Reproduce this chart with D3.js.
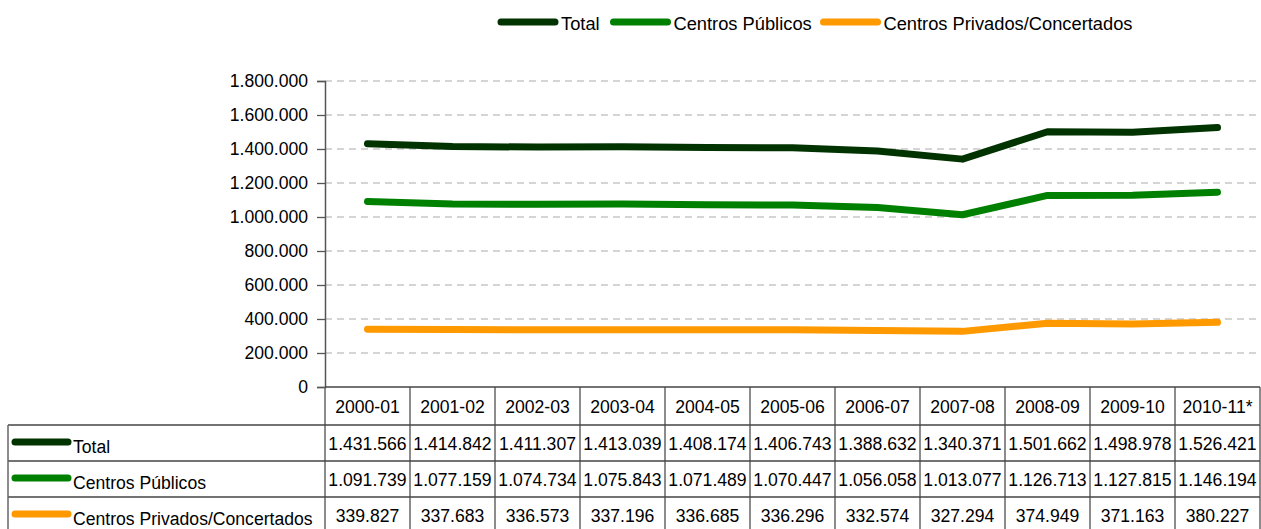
<!DOCTYPE html>
<html>
<head>
<meta charset="utf-8">
<script src="https://cdn.jsdelivr.net/npm/d3@7"></script>
<style>
  html, body { margin: 0; padding: 0; background: #fff; }
  svg { display: block; }
  text { font-family: "Liberation Sans", Arial, sans-serif; fill: #000; }
</style>
</head>
<body>
<div id="chart"></div>
<script>
const categories = ['2000-01', '2001-02', '2002-03', '2003-04', '2004-05', '2005-06',
  '2006-07', '2007-08', '2008-09', '2009-10', '2010-11*'];

const totalValues = [1431566, 1414842, 1411307, 1413039, 1408174, 1406743,
  1388632, 1340371, 1501662, 1498978, 1526421];

const publicValues = [1091739, 1077159, 1074734, 1075843, 1071489, 1070447,
  1056058, 1013077, 1126713, 1127815, 1146194];

const privateValues = [339827, 337683, 336573, 337196, 336685, 336296,
  332574, 327294, 374949, 371163, 380227];

const yTicks = [0, 200000, 400000, 600000, 800000, 1000000, 1200000, 1400000, 1600000, 1800000];

const series = [
  { name: 'Total', color: '#003300', values: totalValues },
  { name: 'Centros Públicos', color: '#008000', values: publicValues },
  { name: 'Centros Privados/Concertados', color: '#ff9900', values: privateValues },
];

const locale = d3.formatLocale({ decimal: ',', thousands: '.', grouping: [3], currency: ['', ''] });
const fmt = locale.format(',d');

const width = 1261,
  height = 529,
  fontSize = 17.6;

const svg = d3.select('#chart').append('svg')
  .attr('width', width)
  .attr('height', height);

// plot area
const plot = { left: 325, right: 1260, top: 81, bottom: 387 };

const x = d3.scaleBand().domain(categories).range([plot.left, plot.right]);
const y = d3.scaleLinear().domain([0, 1800000]).range([plot.bottom, plot.top]);
const cx = c => x(c) + x.bandwidth() / 2;

// gridlines
svg.append('g')
  .selectAll('line')
  .data(yTicks.filter(t => t > 0))
  .join('line')
    .attr('x1', plot.left)
    .attr('x2', plot.right)
    .attr('y1', d => y(d))
    .attr('y2', d => y(d))
    .attr('stroke', '#c8c8c8')
    .attr('stroke-width', 1.3)
    .attr('stroke-dasharray', '7,5');

// y axis
const yAxis = svg.append('g')
  .attr('transform', `translate(${plot.left},0)`)
  .call(d3.axisLeft(y).tickValues(yTicks).tickSize(8).tickPadding(9).tickFormat(fmt));

yAxis.select('.domain').attr('stroke', '#555').attr('stroke-width', 1.5);
yAxis.selectAll('.tick line').attr('stroke', '#555').attr('stroke-width', 1.3);
yAxis.selectAll('.tick text')
  .attr('font-size', fontSize)
  .attr('font-family', '"Liberation Sans", Arial, sans-serif')
  .attr('fill', '#000');

// lines
const line = d3.line()
  .x((d, i) => cx(categories[i]))
  .y(d => y(d));

series.forEach((s) => {
  svg.append('path')
    .datum(s.values)
    .attr('fill', 'none')
    .attr('stroke', s.color)
    .attr('stroke-width', 7)
    .attr('stroke-linejoin', 'round')
    .attr('stroke-linecap', 'round')
    .attr('d', line);
});

// top legend
const legendItems = [
  { s: series[0], x: 501 },
  { s: series[1], x: 613.5 },
  { s: series[2], x: 823.5 },
];
const legend = svg.append('g');
legendItems.forEach(({ s, x: lx }) => {
  legend.append('line')
    .attr('x1', lx).attr('x2', lx + 54)
    .attr('y1', 22).attr('y2', 22)
    .attr('stroke', s.color)
    .attr('stroke-width', 7)
    .attr('stroke-linecap', 'round');
  legend.append('text')
    .attr('x', lx + 60)
    .attr('y', 30)
    .attr('font-size', 18.3)
    .text(s.name);
});

// data table
const tableLeft = 8, headerBottom = 425, rowH = 36;
const table = svg.append('g');

// header labels
table.selectAll('.hdr')
  .data(categories)
  .join('text')
    .attr('class', 'hdr')
    .attr('x', d => cx(d))
    .attr('y', 413)
    .attr('text-anchor', 'middle')
    .attr('font-size', fontSize)
    .text(d => d);

series.forEach((s, r) => {
  const rowTop = headerBottom + r * rowH;
  const keyY = rowTop + 17;

  table.append('line')
    .attr('x1', tableLeft + 7).attr('x2', tableLeft + 60)
    .attr('y1', keyY).attr('y2', keyY)
    .attr('stroke', s.color)
    .attr('stroke-width', 7)
    .attr('stroke-linecap', 'round');

  table.append('text')
    .attr('x', tableLeft + 65)
    .attr('y', rowTop + 28)
    .attr('font-size', fontSize)
    .text(s.name);

  table.selectAll(`.v${r}`)
    .data(s.values)
    .join('text')
      .attr('class', `v${r}`)
      .attr('x', (d, i) => cx(categories[i]))
      .attr('y', rowTop + 25)
      .attr('text-anchor', 'middle')
      .attr('font-size', fontSize)
      .text(d => fmt(d));
});

// table borders
const colEdges = d3.range(categories.length + 1).map(i => plot.left + i * x.bandwidth());
table.selectAll('.vline')
  .data(colEdges)
  .join('line')
    .attr('class', 'vline')
    .attr('x1', d => d).attr('x2', d => d)
    .attr('y1', plot.bottom).attr('y2', height)
    .attr('stroke', '#666')
    .attr('stroke-width', 1.5);

table.selectAll('.hline')
  .data([headerBottom, headerBottom + rowH, headerBottom + 2 * rowH])
  .join('line')
    .attr('class', 'hline')
    .attr('x1', tableLeft).attr('x2', plot.right)
    .attr('y1', d => d).attr('y2', d => d)
    .attr('stroke', '#444')
    .attr('stroke-width', 1.3);

table.append('line')
  .attr('x1', tableLeft).attr('x2', tableLeft)
  .attr('y1', headerBottom).attr('y2', height)
  .attr('stroke', '#666')
  .attr('stroke-width', 1.5);

// x axis line (top of table)
svg.append('line')
  .attr('x1', plot.left).attr('x2', plot.right)
  .attr('y1', plot.bottom).attr('y2', plot.bottom)
  .attr('stroke', '#444')
  .attr('stroke-width', 1.5);
</script>
</body>
</html>
